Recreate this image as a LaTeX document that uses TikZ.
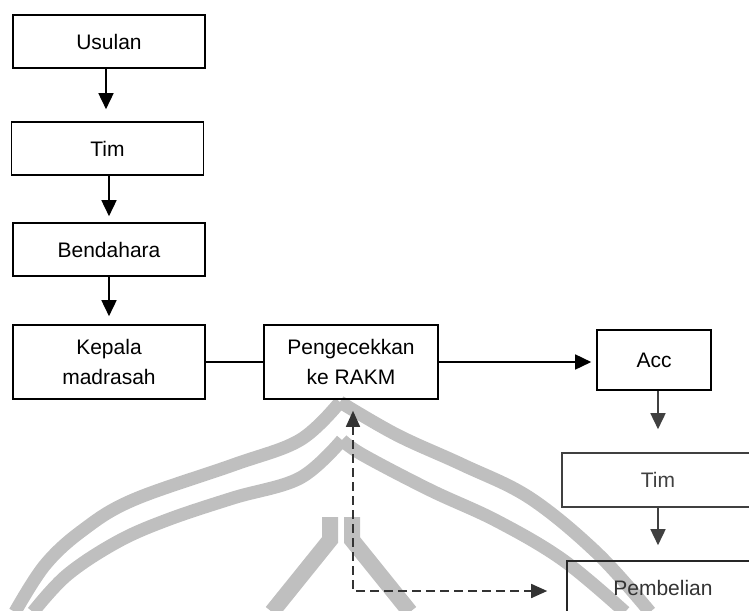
\documentclass[tikz,border=0pt]{standalone}
\usepackage{fontspec}
\setmainfont{Liberation Sans}
\usetikzlibrary{arrows.meta,calc}
\begin{document}
\begin{tikzpicture}[x=1pt,y=-1pt,
  box/.style={draw,line width=1.6pt,minimum width=192pt,minimum height=53pt,align=center,inner sep=0pt,
    font=\fontsize{21}{30}\selectfont},
  conn/.style={line width=1.6pt},
  arr/.style={line width=1.6pt,-{Triangle[length=16pt,width=15pt]}},
  dasharr/.style={line width=1.6pt,dash pattern=on 9pt off 5pt,draw=black!80,
    {Triangle[length=16pt,width=14pt]}-{Triangle[length=16pt,width=14pt]}},
  wmark/.style={draw=black!25,line width=13pt}]
\useasboundingbox (0,0) rectangle (749,610);
\clip (0,0) rectangle (749,610);
% watermark
\draw[wmark] plot[smooth,tension=0.6] coordinates {(340,402) (300,440) (233,465) (133,500) (83,530) (45,565) (15,612)};
\draw[wmark] plot[smooth,tension=0.6] coordinates {(342,440) (300,478) (233,498) (167,520) (117,542) (67,575) (33,612)};
\draw[wmark] plot[smooth,tension=0.6] coordinates {(340,402) (397,435) (463,465) (530,498) (597,553) (650,612)};
\draw[wmark] plot[smooth,tension=0.6] coordinates {(342,440) (363,455) (430,490) (497,521) (563,560) (625,612)};
\draw[wmark,line width=16pt] (330,517) -- (330,540) -- (272,612);
\draw[wmark,line width=16pt] (352,517) -- (352,540) -- (410,612);
% nodes
\node[box] (usulan) at (109,41.5) {Usulan};
\node[box] (tim1) at (107.5,148.5) {Tim};
\node[box] (bend) at (109,249.5) {Bendahara};
\node[box,minimum height=74pt] (kepala) at (109,362) {Kepala\\madrasah};
\node[box,minimum width=174pt,minimum height=74pt] (peng) at (351,362) {Pengecekkan\\ke RAKM};
\node[box,minimum width=114pt,minimum height=60pt] (acc) at (654,360) {Acc};
\node[box,draw=black!75,text=black!75,minimum height=54pt] (tim2) at (658,480) {Tim};
\node[box,draw=black!85,text=black!80,minimum height=54pt] (pemb) at (663,588) {Pembelian};
\coordinate (corner) at (353,591);
% connectors
\draw[arr,shorten >=12pt] (usulan.south -| 106,0) -- (tim1.north -| 106,0);
\draw[arr,shorten >=6pt] (tim1.south -| 109,0) -- (bend.north -| 109,0);
\draw[arr,shorten >=8pt] (bend) -- (kepala);
\draw[conn] (kepala.east) -- (peng.west);
\draw[arr,shorten >=5pt] (peng.east) -- (peng.east -| acc.west);
\draw[arr,draw=black!75,shorten >=23pt] (tim2.north |- acc.south) -- (tim2.north);
\draw[arr,draw=black!75,shorten >=15pt] (tim2.south) -- (tim2.south |- pemb.north);
\draw[dasharr,shorten <=11pt,shorten >=19pt] (peng.south -| corner) -- (corner) -- (corner -| pemb.west);
\end{tikzpicture}
\end{document}
